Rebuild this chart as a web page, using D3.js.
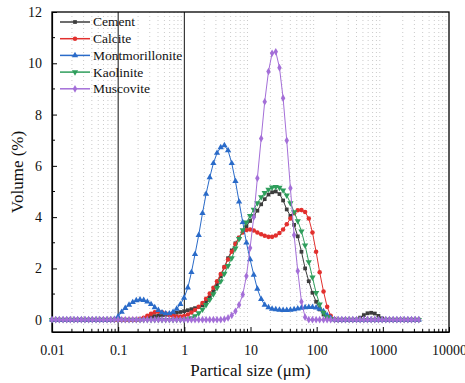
<!DOCTYPE html>
<html>
<head>
<meta charset="utf-8">
<script src="https://cdn.jsdelivr.net/npm/d3@7"></script>
<style>
  body { margin: 0; background: #fff; }
  svg { display: block; }
</style>
</head>
<body>
<div id="chart"></div>
<script>
// size classes (um)
var sizes = [0.0100, 0.0114, 0.0129, 0.0147, 0.0167, 0.0189, 0.0215, 0.0244, 0.0278, 0.0315,
    0.0358, 0.0407, 0.0463, 0.0526, 0.0597, 0.0679, 0.0771, 0.0876, 0.0995, 0.113,
    0.128, 0.146, 0.166, 0.188, 0.214, 0.243, 0.276, 0.314, 0.357, 0.405,
    0.460, 0.523, 0.594, 0.675, 0.767, 0.872, 0.991, 1.13, 1.28, 1.45,
    1.65, 1.88, 2.13, 2.42, 2.75, 3.12, 3.55, 4.03, 4.58, 5.21,
    5.92, 6.72, 7.64, 8.68, 9.86, 11.2, 12.7, 14.5, 16.4, 18.7,
    21.2, 24.1, 27.4, 31.1, 35.3, 40.1, 45.6, 51.8, 58.9, 66.9,
    76.0, 86.4, 98.1, 111, 127, 144, 163, 186, 211, 240,
    272, 310, 352, 400, 454, 516, 586, 666, 756, 859,
    976, 1110, 1260, 1430, 1630, 1850, 2100, 2390, 2710, 3080, 3500];

var cement = [0, 0, 0, 0, 0, 0, 0, 0, 0, 0,
    0, 0, 0, 0, 0, 0, 0, 0, 0, 0,
    0, 0, 0, 0, 0, 0.03, 0.08, 0.12, 0.14, 0.15,
    0.17, 0.19, 0.21, 0.24, 0.27, 0.3, 0.33, 0.37, 0.41, 0.45,
    0.5, 0.56, 0.7, 0.88, 1.1, 1.35, 1.7, 2.05, 2.4, 2.7,
    2.98, 3.2, 3.45, 3.65, 3.85, 4.05, 4.25, 4.5, 4.7, 4.88,
    4.97, 5.0, 4.9, 4.65, 4.3, 4.05, 3.7, 3.25, 2.65, 2.0,
    1.5, 1.05, 0.7, 0.4, 0.2, 0.08, 0.02, 0, 0, 0,
    0, 0, 0, 0, 0.08, 0.18, 0.25, 0.27, 0.24, 0.15,
    0.05, 0, 0, 0, 0, 0, 0, 0, 0, 0, 0];

var calcite = [0, 0, 0, 0, 0, 0, 0, 0, 0, 0,
    0, 0, 0, 0, 0, 0, 0, 0, 0, 0,
    0, 0, 0, 0, 0.03, 0.08, 0.15, 0.23, 0.29, 0.31,
    0.29, 0.24, 0.18, 0.14, 0.12, 0.12, 0.14, 0.2, 0.28, 0.38,
    0.5, 0.65, 0.82, 1.02, 1.25, 1.5, 1.78, 2.05, 2.35, 2.65,
    2.95, 3.2, 3.4, 3.5, 3.52, 3.48, 3.4, 3.33, 3.27, 3.23,
    3.23, 3.28, 3.38, 3.52, 3.72, 3.95, 4.15, 4.27, 4.28, 4.2,
    3.95, 3.4, 2.65, 1.85, 1.1, 0.5, 0.15, 0.02, 0, 0,
    0, 0, 0, 0, 0, 0, 0, 0, 0, 0,
    0, 0, 0, 0, 0, 0, 0, 0, 0, 0, 0];

var montmorillonite = [0, 0, 0, 0, 0, 0, 0, 0, 0, 0,
    0, 0, 0, 0, 0, 0, 0, 0.02, 0.12, 0.3,
    0.45, 0.58, 0.68, 0.75, 0.78, 0.76, 0.7, 0.6, 0.48, 0.37,
    0.28, 0.24, 0.24, 0.3, 0.42, 0.6, 0.85, 1.25, 1.85, 2.55,
    3.3, 4.15, 4.9, 5.55, 6.1, 6.5, 6.72, 6.8, 6.6, 6.1,
    5.4, 4.6, 3.8, 3.0, 2.35, 1.75, 1.2, 0.8, 0.58, 0.48,
    0.42, 0.4, 0.38, 0.37, 0.37, 0.38, 0.4, 0.43, 0.46, 0.48,
    0.49, 0.49, 0.47, 0.42, 0.32, 0.18, 0.07, 0.01, 0, 0,
    0, 0, 0, 0, 0, 0, 0, 0, 0, 0,
    0, 0, 0, 0, 0, 0, 0, 0, 0, 0, 0];

var kaolinite = [0, 0, 0, 0, 0, 0, 0, 0, 0, 0,
    0, 0, 0, 0, 0, 0, 0, 0, 0, 0,
    0, 0, 0, 0, 0, 0, 0, 0, 0, 0,
    0, 0, 0, 0, 0, 0, 0, 0.02, 0.06, 0.14,
    0.26, 0.4, 0.58, 0.78, 1.0, 1.24, 1.5, 1.8, 2.1, 2.4,
    2.78, 3.15, 3.5, 3.8, 4.05, 4.3, 4.55, 4.78, 4.95, 5.08,
    5.16, 5.18, 5.15, 5.05, 4.85, 4.55, 4.2, 3.85, 3.45, 2.9,
    2.25, 1.65, 1.05, 0.6, 0.28, 0.1, 0.03, 0, 0, 0,
    0, 0, 0, 0, 0, 0, 0, 0, 0, 0,
    0, 0, 0, 0, 0, 0, 0, 0, 0, 0, 0];

var muscovite = [0, 0, 0, 0, 0, 0, 0, 0, 0, 0,
    0, 0, 0, 0, 0, 0, 0, 0, 0, 0,
    0, 0, 0, 0, 0, 0, 0, 0, 0, 0,
    0, 0, 0, 0, 0, 0, 0, 0, 0, 0,
    0, 0, 0, 0, 0, 0, 0, 0.02, 0.07, 0.17,
    0.33, 0.58, 0.98, 1.7, 2.8, 4.0, 5.52, 7.07, 8.5, 9.68,
    10.39, 10.45, 9.83, 8.64, 6.99, 5.13, 3.3, 1.9, 0.7, 0.1,
    0, 0, 0, 0, 0, 0, 0, 0, 0, 0,
    0, 0, 0, 0, 0, 0, 0, 0, 0, 0,
    0, 0, 0, 0, 0, 0, 0, 0, 0, 0, 0];

var seriesNames = ["Cement", "Calcite", "Montmorillonite", "Kaolinite", "Muscovite"];
var seriesValues = [cement, calcite, montmorillonite, kaolinite, muscovite];
var seriesColors = ["#3d3d3d", "#e2302e", "#2a6bc9", "#2f9e5c", "#a46fd8"];
var seriesSymbols = [d3.symbolSquare, d3.symbolCircle, d3.symbolTriangle, d3.symbolTriangle, d3.symbolDiamond];
var seriesSymbolSize = [14, 16, 17, 17, 17];
var seriesRotate = [0, 0, 0, 180, 0];

var xTicks = [0.01, 0.1, 1, 10, 100, 1000, 10000];
var xTickLabels = ["0.01", "0.1", "1", "10", "100", "1000", "10000"];
var yTicks = [0, 2, 4, 6, 8, 10, 12];
var refLines = [0.1, 1];

function drawChart(element) {
    d3.select(element).html(null);

    var width = 465, height = 383;
    var left = 52, right = 449, top = 12, bottom = 332;
    var font = "'Liberation Serif', 'Times New Roman', serif";

    var svg = d3.select(element)
        .append("svg")
        .attr("width", width)
        .attr("height", height);

    var x = d3.scaleLog().domain([0.01, 10000]).range([left, right]);
    var y = d3.scaleLinear().domain([-0.48, 12]).range([bottom, top]);

    // minor values on the log axis
    var minors = [];
    for (var e = -2; e < 4; e++) {
        for (var m = 2; m <= 9; m++) {
            minors.push(m * Math.pow(10, e));
        }
    }

    // dotted grid
    svg.append("g")
        .selectAll("line")
        .data(minors)
        .enter()
        .append("line")
        .attr("x1", function (d) { return x(d); })
        .attr("x2", function (d) { return x(d); })
        .attr("y1", top)
        .attr("y2", bottom)
        .attr("stroke", "#bdbdbd")
        .attr("stroke-width", 0.8)
        .attr("stroke-dasharray", "1,3");

    // solid reference lines at 0.1 and 1
    svg.append("g")
        .selectAll("line")
        .data(refLines)
        .enter()
        .append("line")
        .attr("x1", function (d) { return x(d); })
        .attr("x2", function (d) { return x(d); })
        .attr("y1", top)
        .attr("y2", bottom)
        .attr("stroke", "#111")
        .attr("stroke-width", 1);

    // x axis (ticks inside)
    var xAxis = d3.axisBottom(x)
        .tickValues(xTicks)
        .tickFormat(function (d, i) { return xTickLabels[i]; })
        .tickSizeInner(-5)
        .tickSizeOuter(0)
        .tickPadding(13);

    var gx = svg.append("g")
        .attr("transform", "translate(0," + bottom + ")")
        .call(xAxis);

    gx.selectAll(".minor")
        .data(minors)
        .enter()
        .append("line")
        .attr("class", "minor")
        .attr("x1", function (d) { return x(d); })
        .attr("x2", function (d) { return x(d); })
        .attr("y1", 0)
        .attr("y2", -3)
        .attr("stroke", "#000");

    // y axis (ticks inside)
    var yAxis = d3.axisLeft(y)
        .tickValues(yTicks)
        .tickSizeInner(-5)
        .tickSizeOuter(0)
        .tickPadding(10);

    var gy = svg.append("g")
        .attr("transform", "translate(" + left + ",0)")
        .call(yAxis);

    gy.selectAll(".minor")
        .data([1, 3, 5, 7, 9, 11])
        .enter()
        .append("line")
        .attr("class", "minor")
        .attr("x1", 0)
        .attr("x2", 3)
        .attr("y1", function (d) { return y(d); })
        .attr("y2", function (d) { return y(d); })
        .attr("stroke", "#000");

    [gx, gy].forEach(function (g) {
        g.select(".domain").attr("stroke", "#000").attr("stroke-width", 1.2);
        g.selectAll(".tick line").attr("stroke", "#000");
        g.selectAll("text")
            .attr("font-family", font)
            .attr("font-size", 14)
            .attr("fill", "#111");
    });

    // frame
    svg.append("rect")
        .attr("x", left)
        .attr("y", top)
        .attr("width", right - left)
        .attr("height", bottom - top)
        .attr("fill", "none")
        .attr("stroke", "#000")
        .attr("stroke-width", 1.3);

    // series
    var line = d3.line()
        .x(function (d) { return x(d[0]); })
        .y(function (d) { return y(d[1]); });

    seriesValues.forEach(function (vals, k) {
        var pts = sizes.map(function (s, i) { return [s, vals[i]]; });
        var g = svg.append("g");

        g.append("path")
            .datum(pts)
            .attr("d", line)
            .attr("fill", "none")
            .attr("stroke", seriesColors[k])
            .attr("stroke-width", 1);

        g.selectAll("path.pt")
            .data(pts)
            .enter()
            .append("path")
            .attr("class", "pt")
            .attr("d", d3.symbol().type(seriesSymbols[k]).size(seriesSymbolSize[k]))
            .attr("transform", function (d) {
                return "translate(" + x(d[0]) + "," + y(d[1]) + ") rotate(" + seriesRotate[k] + ")";
            })
            .attr("fill", seriesColors[k]);
    });

    // legend
    var legend = svg.append("g")
        .attr("transform", "translate(60,22)");

    var item = legend.selectAll("g")
        .data(seriesNames)
        .enter()
        .append("g")
        .attr("transform", function (d, i) { return "translate(0," + (i * 16.7) + ")"; });

    item.append("line")
        .attr("x1", 0)
        .attr("x2", 30)
        .attr("stroke", function (d, i) { return seriesColors[i]; })
        .attr("stroke-width", 1.5);

    item.append("path")
        .attr("d", function (d, i) {
            return d3.symbol().type(seriesSymbols[i]).size(seriesSymbolSize[i])();
        })
        .attr("transform", function (d, i) { return "translate(15,0) rotate(" + seriesRotate[i] + ")"; })
        .attr("fill", function (d, i) { return seriesColors[i]; });

    item.append("text")
        .attr("x", 33)
        .attr("dy", "0.33em")
        .text(function (d) { return d; })
        .attr("font-family", font)
        .attr("font-size", 13.5)
        .attr("fill", "#111");

    // axis titles
    svg.append("text")
        .attr("x", (left + right) / 2)
        .attr("y", 376)
        .attr("text-anchor", "middle")
        .attr("font-family", font)
        .attr("font-size", 17)
        .attr("fill", "#111")
        .text("Partical size (μm)");

    svg.append("text")
        .attr("transform", "translate(23," + ((top + bottom) / 2) + ") rotate(-90)")
        .attr("text-anchor", "middle")
        .attr("font-family", font)
        .attr("font-size", 17)
        .attr("fill", "#111")
        .text("Volume (%)");
}

drawChart(document.getElementById("chart"));
</script>
</body>
</html>
